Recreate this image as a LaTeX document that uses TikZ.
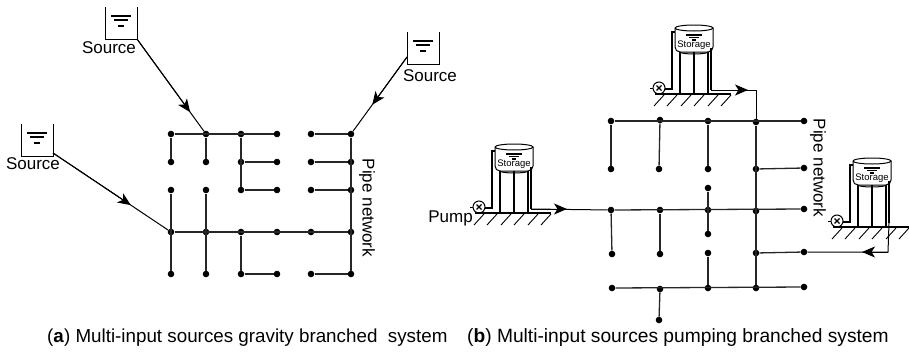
\documentclass[tikz,border=0pt]{standalone}
\usepackage{fontspec}
\setmainfont{Liberation Sans}
\usetikzlibrary{arrows.meta,calc}

\begin{document}
\begin{tikzpicture}[x=1pt,y=-1pt,font=\fontsize{17}{19}\selectfont,>={Stealth[length=13pt,width=11pt,inset=3.5pt]},
  pipe/.style={line width=1.3pt,black!85},
  thin pipe/.style={line width=1pt,black},
  jn/.style={circle,fill=black,inner sep=0pt,minimum size=6.6pt},
  lbl/.style={inner sep=0pt},
  source/.pic={
    \draw[line width=1pt] (-16,-32)--(-16,0)--(16,0)--(16,-32);
    \draw[line width=1.1pt] (-10,-23)--(10,-23);
    \draw[line width=1.1pt] (-7,-19)--(7,-19);
    \draw[line width=1.1pt] (-3,-13)--(3,-13);
  },
  storage/.pic={
    \draw[line width=1pt] (-19,0) arc[start angle=180,end angle=360,x radius=19,y radius=3]
      arc[start angle=0,end angle=180,x radius=19,y radius=3];
    \draw[line width=1pt] (-19,0)--(-19,19) to[out=-90,in=180] (-14,24)--(14,24) to[out=0,in=-90] (19,19)--(19,0);
    \draw[line width=1pt] (-14,24) arc[start angle=180,end angle=0,x radius=14,y radius=2];
    \draw[line width=1.1pt] (-8,7)--(8,7);
    \draw[line width=1.1pt] (-5,9.5)--(5,9.5);
    \draw[line width=1.1pt] (-2,12)--(2,12);
    \node[lbl,font=\fontsize{9.5}{11}\selectfont] (-name) at (0,17) {Storage};
    \foreach \x in {-14,0,14} \draw[line width=1.4pt] (\x,24)--(\x,66);
    \draw[line width=1.4pt] (-39,66)--(37,66);
    \foreach \x in {-39,-26,-12,1,15,28} \draw[line width=.9pt] (\x-1,78)--(\x+9,67);
    \node[circle,draw,line width=1pt,inner sep=0pt,minimum size=12pt] (-pump) at (-35,60) {};
    \draw[line width=1.3pt] (-37.5,57.5)--(-32.5,62.5) (-37.5,62.5)--(-32.5,57.5);
    \draw[line width=.9pt] (-44,60)--(-41,60);
    \draw[line width=1.1pt] (-29,61)--(-22,61)--(-22,4)--(-19,4);
    \draw[line width=1.4pt] (17,20)--(17,62);
    \coordinate (-out) at (17,62);
  }]
\useasboundingbox (0,0) rectangle (909,351);

% gravity system
\pic at (121,39) {source};
\pic at (37,156) {source};
\pic at (423,64) {source};
\coordinate (s1out) at (137,39);
\coordinate (s2out) at (53,153);
\coordinate (s3out) at (407,57);
\node[lbl] (s1txt) at (109,48) {Source};
\node[lbl] (s2txt) at (33,164) {Source};
\node[lbl] (s3txt) at (430,76) {Source};
\foreach \c/\x in {a/171,b/206,c/241,d/277,e/311,f/351}
  \foreach \r/\y in {1/134,2/162,3/190,4/232,5/274}
    \node[jn] (\c\r) at (\x,\y) {};
\foreach \p/\q in {a1/d1,e1/f1,c2/d2,e2/f2,c3/d3,e3/f3,a4/f4,c5/d5,e5/f5,a1/a2,b1/b2,c1/c3,f1/f5,a3/a5,b3/b5,c4/c5}
  \draw[pipe] (\p)--(\q);
\draw[thin pipe] (s1out)--(b1);
\draw[thin pipe] (s2out)--(a4);
\draw[thin pipe] (s3out)--(f1);
\draw[thin pipe,->] (s1out)--($(s1out)!.77!(b1)$);
\draw[thin pipe,->] (s2out)--($(s2out)!.66!(a4)$);
\draw[thin pipe,->] (s3out)--($(s3out)!.62!(f1)$);
\node[lbl,rotate=-90] (netl) at (367,208) {Pipe network};

% pumping system
\pic (t1) at (514,147) {storage};
\pic (t2) at (694,28) {storage};
\pic (t3) at (872,161) {storage};
\node[lbl,anchor=east] (pumptxt) at (473,218) {Pump};
\foreach \n/\x/\y in {p1/611/121,p2/660/120,p3/708/121,p4/756/122,p5/804/121,
  q1/611/169,q2/659/169,q3/708/169,q4/756/169,q5/804/168,r3/708/188,
  u1/611/210,u2/660/210,u3/708/210,u4/756/211,u5/804/209,v3/708/234,
  w1/612/254,w2/660/254,w3/708/253,w4/756/253,w5/804/252,
  z1/612/288,z2/660/289,z3/708/288,z4/756/288,z5/804/287,y2/659/320}
  \node[jn] (\n) at (\x,\y) {};
\foreach \p/\q in {p1/p5,q4/q5,u1/u5,w4/w5,z1/z5,p1/q1,p2/q2,p3/q3,p4/z4,r3/v3,u1/w1,u2/w2,w3/z3,z2/y2}
  \draw[pipe] (\p)--(\q);
\coordinate (t1in) at (567,209);
\coordinate (t2in) at (748,90);
\coordinate (t2bend) at (756,90);
\coordinate (t3bend) at (888,252);
\coordinate (t3in) at (862,252);
\draw[thin pipe] (t1-out)--(u1);
\draw[thin pipe,->] (t1-out)--(t1in);
\draw[thin pipe] (t2-out)--(t2bend)--(p4);
\draw[thin pipe,->] (t2-out)--(t2in);
\draw[thin pipe] (t3-out)--(t3bend)--(w5);
\draw[thin pipe,->] (t3bend)--(t3in);
\node[lbl,rotate=-90] (netr) at (818,168) {Pipe network};

% captions
\node[lbl,anchor=west,font=\fontsize{18.8}{21}\selectfont] (capa) at (47,338) {(\textbf{a}) Multi-input sources gravity branched\ \ system};
\node[lbl,anchor=west,font=\fontsize{19.2}{21}\selectfont] (capb) at (467,338) {(\textbf{b}) Multi-input sources pumping branched system};
\end{tikzpicture}
\end{document}
